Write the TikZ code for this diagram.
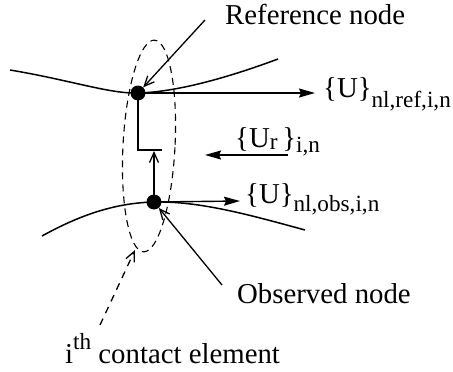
\documentclass[tikz,border=0pt]{standalone}
\usepackage{fontspec}
\setmainfont{Liberation Serif}
\usetikzlibrary{positioning, calc, arrows.meta}
\tikzset{
	arrow/.style={line width=1.4pt, -{Stealth[length=16pt, width=9pt, inset=2pt]}},
	openarrow/.style={line width=1.3pt, -{Straight Barb[length=10pt, width=9pt]}},
	dasharrow/.style={openarrow, dash pattern=on 7pt off 6pt},
	surface/.style={line width=1.5pt},
	dot/.style={circle, fill=black, inner sep=0pt, minimum size=15pt},
	tag/.style={font=\fontsize{28.8}{34}\selectfont, inner sep=0pt, anchor=base west},
}
% shifted index text
\newcommand{\shiftidx}[2]{\raisebox{#1}{\fontsize{23.2}{28}\selectfont #2}}

\begin{document}
\begin{tikzpicture}[x=1pt, y=-1pt]
	\useasboundingbox (0,0) rectangle (453,372);

	% contact surfaces
	\draw[surface] (10,70) .. controls (70,80) and (110,94) .. (138,93)
		.. controls (180,92) and (235,75) .. (278,59);
	\draw[surface] (42,236) .. controls (80,215) and (115,203) .. (154,202)
		.. controls (200,201) and (250,215) .. (305,230);

	% contact element
	\draw[dash pattern=on 7pt off 5pt, line width=1.1pt] (149,146) ellipse [x radius=26, y radius=106, rotate=-3];

	\node[dot] (ref) at (138,93) {};
	\node[dot] (obs) at (154,202) {};

	\coordinate (bar) at (138,150);
	\coordinate (barend) at (162,150);
	\draw[line width=1.4pt] (ref.center) -- (bar) -- (barend);
	\draw[openarrow] (obs.center) -- (154,151);

	% displacements
	\node[tag] (Uref) at (323,97) {\{U\}\shiftidx{-10pt}{nl,ref,i,n}};
	\node[tag] (Ur) at (235,147) {\{U\shiftidx{-2pt}{r}\,\}\shiftidx{-5pt}{i,n}};
	\node[tag] (Uobs) at (245,203) {\{U\}\shiftidx{-8pt}{nl,obs,i,n}};
	\coordinate (Urstart) at (288,155);
	\coordinate (Urend) at (205,155);

	\draw[arrow] (ref.center) -- (315,93);
	\draw[arrow] (Urstart) -- (Urend);
	\draw[arrow] (obs.center) -- (240,201);

	% annotations
	\node[tag] (refname) at (225,24) {Reference node};
	\node[tag] (obsname) at (237,303) {Observed node};
	\node[tag] (elemname) at (65,363) {i\shiftidx{14pt}{th} contact element};

	\coordinate (refstart) at (205,20);
	\coordinate (obsstart) at (222,285);
	\coordinate (elemstart) at (100,325);
	\draw[openarrow] (refstart) -- (ref);
	\draw[openarrow] (obsstart) -- (obs);
	\draw[dasharrow] (elemstart) -- (135,250);
\end{tikzpicture}
\end{document}
